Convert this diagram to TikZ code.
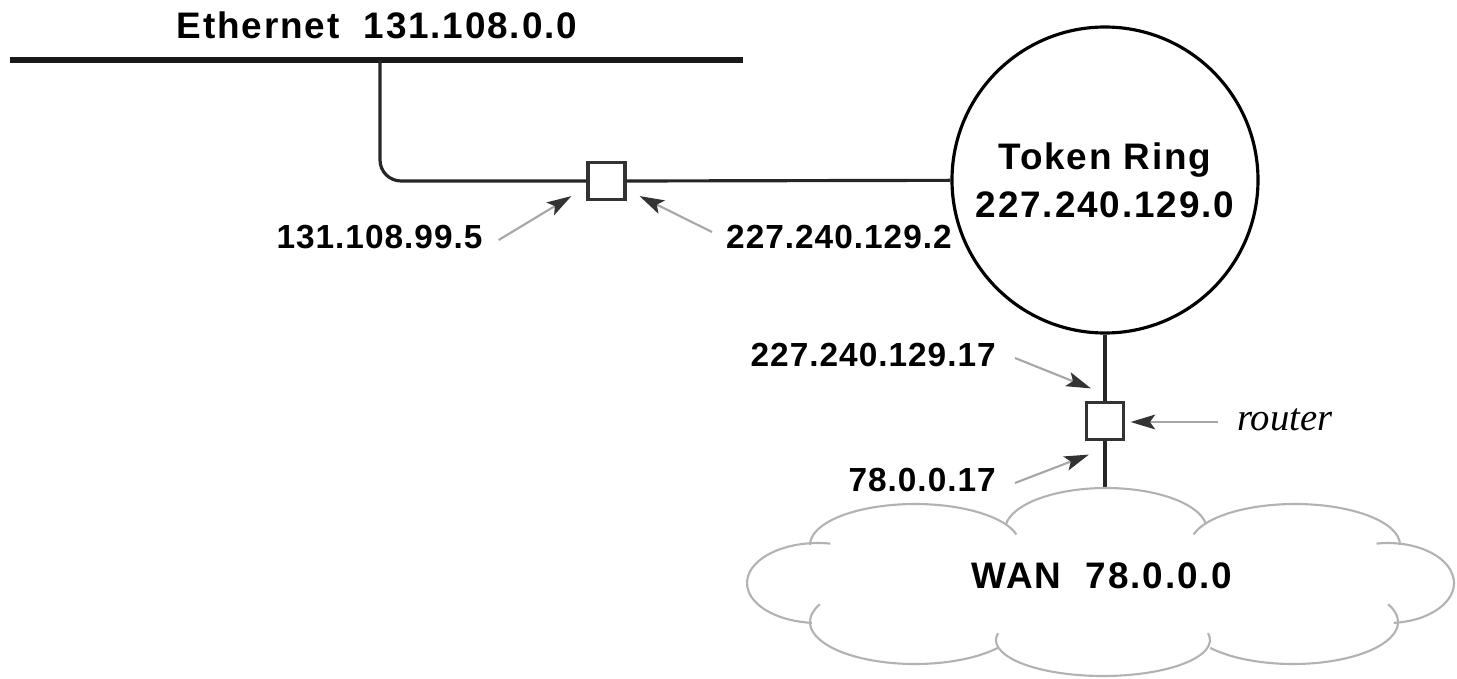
\documentclass[tikz,border=0pt]{standalone}
\usepackage{fontspec}
\usepackage{tikz}
\setmainfont{Liberation Sans}
\newfontfamily\bigfont[LetterSpace=5]{Liberation Sans}
\newfontfamily\tagfont[LetterSpace=3]{Liberation Sans}
\newfontfamily\notefont{Liberation Serif}
\usetikzlibrary{arrows.meta}

\begin{document}
\begin{tikzpicture}[
  wire/.style={line width=0.9pt,black!85},
  router/.style={draw=black!80,line width=0.9pt,fill=white,minimum size=0.37cm,inner sep=0pt},
  netlabel/.style={font=\bigfont\bfseries\fontsize{10.5}{13.6}\selectfont,inner sep=1pt,align=center},
  iplabel/.style={font=\tagfont\bfseries\fontsize{9.5}{11}\selectfont,inner sep=1pt},
  ptr/.style={black!35,line width=0.6pt,-{Stealth[length=7pt,width=4.2pt,inset=1.5pt,color=black!80]}},
  lobe/.style={draw=black!30,line width=0.6pt}
]
\useasboundingbox (0,0) rectangle (14.57,-6.78);

% Ethernet backbone
\coordinate (ethL) at (0.10,-0.60);
\coordinate (ethR) at (7.43,-0.60);
\coordinate (drop) at (3.80,-0.60);
\draw[line width=1.5pt,black!90] (ethL) -- (ethR);
\node[netlabel] (eth) at (3.77,-0.25) {Ethernet\ \ 131.108.0.0};

% Token ring
\node[netlabel,draw,circle,line width=0.9pt,minimum size=3.06cm,inner sep=0pt] (ring) at (11.05,-1.80) {Token Ring\\227.240.129.0};

% Routers
\node[router] (rtA) at (6.065,-1.81) {};
\node[router] (rtB) at (11.05,-4.21) {};
\coordinate (wanTop) at (11.05,-4.88);

% Links
\draw[wire,rounded corners=6pt] (drop) |- (rtA.west);
\draw[wire] (rtA.east) -- (ring);
\draw[wire] (ring.south) -- (rtB.north);
\draw[wire] (rtB.south) -- (wanTop);

% WAN cloud
\draw[lobe] ([shift={(15:1.05 and 0.41)}]9.15,-5.45) arc[start angle=15,end angle=180,x radius=1.05,y radius=0.41];
\draw[lobe] ([shift={(8:1.01 and 0.42)}]11.06,-5.30) arc[start angle=8,end angle=172,x radius=1.01,y radius=0.42];
\draw[lobe] ([shift={(0:1.05 and 0.41)}]12.95,-5.45) arc[start angle=0,end angle=165,x radius=1.05,y radius=0.41];
\draw[lobe] ([shift={(80:0.71 and 0.40)}]8.18,-5.83) arc[start angle=80,end angle=265,x radius=0.71,y radius=0.40];
\draw[lobe] ([shift={(-85:0.66 and 0.40)}]13.88,-5.83) arc[start angle=-85,end angle=100,x radius=0.66,y radius=0.40];
\draw[lobe] ([shift={(155:1.05 and 0.42)}]9.15,-6.22) arc[start angle=155,end angle=322,x radius=1.05,y radius=0.42];
\draw[lobe] ([shift={(169:1.07 and 0.36)}]11.03,-6.40) arc[start angle=169,end angle=371,x radius=1.07,y radius=0.36];
\draw[lobe] ([shift={(218:1.05 and 0.42)}]12.93,-6.22) arc[start angle=218,end angle=385,x radius=1.05,y radius=0.42];
\node[netlabel] (wan) at (11.02,-5.76) {WAN\ \ 78.0.0.0};

% Address labels
\node[iplabel] (ipA) at (3.795,-2.37) {131.108.99.5};
\node[iplabel] (ipB) at (8.39,-2.37) {227.240.129.2};
\node[iplabel,anchor=east] (ipC) at (10.0,-3.55) {227.240.129.17};
\node[iplabel,anchor=east] (ipD) at (10.0,-4.80) {78.0.0.17};
\node[font=\notefont\itshape\fontsize{11}{13}\selectfont,inner sep=1pt,anchor=west] (note) at (12.33,-4.20) {router};

% Pointers
\draw[ptr] ([shift={(0.12,-0.03)}]ipA.east) -- ([shift={(-0.15,0.05)}]rtA.south west);
\draw[ptr] ([shift={(-0.10,0.05)}]ipB.west) -- ([shift={(0.13,0.05)}]rtA.south east);
\draw[ptr] ([shift={(0.15,-0.03)}]ipC.east) -- ([shift={(0.06,0.125)}]rtB.north west);
\draw[ptr] ([shift={(0.15,-0.03)}]ipD.east) -- ([shift={(0.04,-0.135)}]rtB.south west);
\draw[ptr] ([shift={(-0.15,-0.02)}]note.west) -- ([shift={(0.055,-0.01)}]rtB.east);
\end{tikzpicture}
\end{document}
